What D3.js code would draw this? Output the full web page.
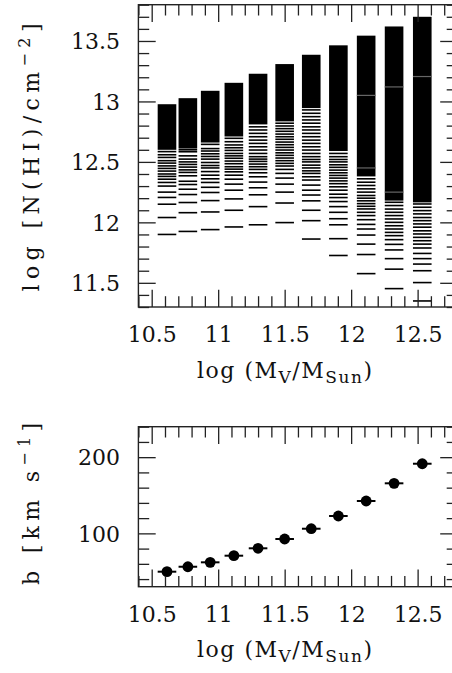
<!DOCTYPE html>
<html><head><meta charset="utf-8">
<script src="https://cdn.jsdelivr.net/npm/d3@7"></script>
<style>
body{margin:0;background:#fff}
svg{display:block}
text{font-family:"DejaVu Serif",serif;fill:#111}
</style>
</head><body>
<svg id="c" width="452" height="673"></svg>
<script>
// ---- data ----
const massBins = [10.615, 10.772, 10.94, 11.118, 11.30, 11.50, 11.70, 11.904, 12.113, 12.323, 12.535];
const binHalfWidth = 0.07;
const nhiTop = [12.977, 13.027, 13.088, 13.154, 13.229, 13.309, 13.386, 13.464, 13.544, 13.62, 13.70];
const nhiSolidBottom = [12.60, 12.61, 12.66, 12.71, 12.81, 12.835, 12.945, 12.59, 12.38, 12.18, 12.165];
const nhiLightBands = [[], [], [], [], [], [], [], [], [13.05, 12.45], [13.12, 12.25], [13.206]];
const nhiDashes = [
  [12.585, 12.559, 12.537, 12.51, 12.49, 12.467, 12.446, 12.424, 12.40, 12.38, 12.357, 12.33, 12.30, 12.25, 12.206, 12.15, 12.04, 11.90],
  [12.60, 12.584, 12.55, 12.523, 12.50, 12.479, 12.457, 12.434, 12.413, 12.385, 12.34, 12.313, 12.274, 12.23, 12.164, 12.08, 11.925],
  [12.645, 12.61, 12.59, 12.567, 12.545, 12.523, 12.495, 12.47, 12.45, 12.42, 12.39, 12.36, 12.33, 12.29, 12.247, 12.18, 12.086, 11.94],
  [12.695, 12.667, 12.64, 12.617, 12.595, 12.57, 12.55, 12.53, 12.507, 12.485, 12.46, 12.44, 12.418, 12.39, 12.357, 12.316, 12.266, 12.194, 12.10, 11.962],
  [12.79, 12.764, 12.736, 12.708, 12.68, 12.653, 12.625, 12.598, 12.57, 12.543, 12.523, 12.504, 12.482, 12.46, 12.438, 12.41, 12.377, 12.333, 12.286, 12.228, 12.13, 11.98],
  [12.82, 12.797, 12.775, 12.753, 12.73, 12.708, 12.687, 12.664, 12.642, 12.62, 12.598, 12.575, 12.554, 12.532, 12.51, 12.488, 12.466, 12.438, 12.405, 12.366, 12.316, 12.25, 12.16, 11.998],
  [12.93, 12.902, 12.874, 12.847, 12.82, 12.79, 12.764, 12.736, 12.708, 12.68, 12.653, 12.625, 12.598, 12.57, 12.543, 12.52, 12.50, 12.473, 12.45, 12.426, 12.405, 12.377, 12.35, 12.308, 12.266, 12.226, 12.178, 12.10, 12.014, 11.862],
  [12.57, 12.543, 12.52, 12.50, 12.476, 12.455, 12.432, 12.41, 12.388, 12.366, 12.343, 12.32, 12.294, 12.266, 12.233, 12.205, 12.172, 12.13, 12.083, 12.03, 11.98, 11.865, 11.726],
  [12.36, 12.332, 12.305, 12.277, 12.25, 12.222, 12.20, 12.178, 12.155, 12.133, 12.111, 12.083, 12.056, 12.022, 11.983, 11.945, 11.895, 11.82, 11.734, 11.576],
  [12.166, 12.139, 12.11, 12.083, 12.056, 12.028, 12.0, 11.972, 11.945, 11.917, 11.89, 11.857, 11.818, 11.772, 11.70, 11.613, 11.452],
  [12.152, 12.125, 12.097, 12.07, 12.04, 12.014, 11.987, 11.96, 11.93, 11.904, 11.876, 11.848, 11.82, 11.788, 11.743, 11.70, 11.655, 11.60, 11.502, 11.35]
];
const bValues = [49.7, 56.2, 62.0, 70.7, 80.4, 92.6, 106.1, 122.8, 142.5, 165.7, 191.4];
const xTickLabels = ["10.5", "11", "11.5", "12", "12.5"];
const nhiTickLabels = ["11.5", "12", "12.5", "13", "13.5"];
const bTickLabels = ["100", "200"];

// ---- drawing ----
const svg = d3.select("#c");
const x = d3.scaleLinear().domain([10.4, 12.8]).range([138.4, 457.5]);
const yTop = d3.scaleLinear().domain([11.3, 13.8]).range([307, 4.7]);
const yBot = d3.scaleLinear().domain([30, 240]).range([586.7, 426.7]);

const xMajor = xTickLabels.map(Number);
const xMinor = d3.range(104, 129).map(v => v / 10).filter(v => !xMajor.some(m => Math.abs(m - v) < 1e-6));
const nMajor = nhiTickLabels.map(Number);
const nMinor = d3.range(113, 139).map(v => v / 10).filter(v => !nMajor.some(m => Math.abs(m - v) < 1e-6));
const bMajor = bTickLabels.map(Number);
const bMinor = d3.range(40, 241, 20).filter(v => !bMajor.includes(v));

function frame(y, xTicksLabelled, yMajorVals, yMinorVals, yLabels) {
  const [y0, y1] = y.range();
  const x0 = x.range()[0], x1 = x.range()[1];
  const g = svg.append("g");
  const styleAxis = sel => {
    sel.select(".domain").remove();
    sel.selectAll("line").attr("stroke", "#222").attr("stroke-width", 1.3);
  };
  const MJ = 17.3, MN = 10.8;
  // bottom
  g.append("g").attr("transform", `translate(0,${y0})`).call(d3.axisBottom(x).tickValues(xMinor).tickSize(-MN).tickFormat("")).call(styleAxis);
  const xb = g.append("g").attr("transform", `translate(0,${y0})`).call(d3.axisBottom(x).tickValues(xMajor).tickSize(-MJ).tickFormat((d, i) => xTickLabels[i])).call(styleAxis);
  xb.selectAll("text").attr("y", 35).attr("dy", null).attr("font-size", 22).attr("font-family", '"DejaVu Serif",serif').attr("fill", "#111");
  // top
  g.append("g").attr("transform", `translate(0,${y1})`).call(d3.axisTop(x).tickValues(xMinor).tickSize(-MN).tickFormat("")).call(styleAxis);
  g.append("g").attr("transform", `translate(0,${y1})`).call(d3.axisTop(x).tickValues(xMajor).tickSize(-MJ).tickFormat("")).call(styleAxis);
  // left
  g.append("g").attr("transform", `translate(${x0},0)`).call(d3.axisLeft(y).tickValues(yMinorVals).tickSize(-MN).tickFormat("")).call(styleAxis);
  const yl = g.append("g").attr("transform", `translate(${x0},0)`).call(d3.axisLeft(y).tickValues(yMajorVals).tickSize(-MJ).tickFormat((d, i) => yLabels[i])).call(styleAxis);
  yl.selectAll("text").attr("x", -18.5).attr("dy", "0.35em").attr("font-size", 22).attr("font-family", '"DejaVu Serif",serif').attr("fill", "#111");
  // right
  g.append("g").attr("transform", `translate(${x1},0)`).call(d3.axisRight(y).tickValues(yMinorVals).tickSize(-MN).tickFormat("")).call(styleAxis);
  g.append("g").attr("transform", `translate(${x1},0)`).call(d3.axisRight(y).tickValues(yMajorVals).tickSize(-MJ).tickFormat("")).call(styleAxis);
  g.append("rect").attr("x", x0).attr("y", y1).attr("width", x1 - x0).attr("height", y0 - y1)
    .attr("fill", "none").attr("stroke", "#222").attr("stroke-width", 1.4);
}

// top panel marks
const cols = svg.append("g");
massBins.forEach((m, i) => {
  const xl = x(m - binHalfWidth), xr = x(m + binHalfWidth);
  cols.append("rect").attr("x", xl).attr("width", xr - xl)
    .attr("y", yTop(nhiTop[i])).attr("height", yTop(nhiSolidBottom[i]) - yTop(nhiTop[i]))
    .attr("fill", "#000");
  cols.selectAll(null).data(nhiLightBands[i]).enter().append("line")
    .attr("x1", xl).attr("x2", xr).attr("y1", d => yTop(d)).attr("y2", d => yTop(d))
    .attr("stroke", "#666").attr("stroke-width", 1.2);
  cols.selectAll(null).data(nhiDashes[i]).enter().append("line")
    .attr("x1", xl).attr("x2", xr).attr("y1", d => yTop(d)).attr("y2", d => yTop(d))
    .attr("stroke", "#000").attr("stroke-width", 1.6);
});

// bottom panel marks
const pts = svg.append("g");
pts.selectAll("line").data(massBins).enter().append("line")
  .attr("x1", d => x(d - binHalfWidth)).attr("x2", d => x(d + binHalfWidth))
  .attr("y1", (d, i) => yBot(bValues[i])).attr("y2", (d, i) => yBot(bValues[i]))
  .attr("stroke", "#000").attr("stroke-width", 2);
pts.selectAll("circle").data(massBins).enter().append("circle")
  .attr("cx", d => x(d)).attr("cy", (d, i) => yBot(bValues[i])).attr("r", 5.4).attr("fill", "#000");

frame(yTop, true, nMajor, nMinor, nhiTickLabels);
frame(yBot, true, bMajor, bMinor, bTickLabels);

// axis labels
function xLabel(yBase) {
  const t = svg.append("text").attr("x", 284.5).attr("y", yBase).attr("text-anchor", "middle")
    .attr("font-size", 22).attr("textLength", 175).attr("lengthAdjust", "spacing");
  t.append("tspan").text("log (M");
  t.append("tspan").attr("dy", 5).attr("font-size", 17).text("V");
  t.append("tspan").attr("dy", -5).text("/M");
  t.append("tspan").attr("dy", 5).attr("font-size", 17).text("Sun");
  t.append("tspan").attr("dy", -5).text(")");
}
xLabel(377.5);
xLabel(657);

const yl1 = svg.append("text").attr("transform", "translate(39,157.5) rotate(-90)").attr("text-anchor", "middle")
  .attr("font-size", 22).attr("textLength", 268).attr("lengthAdjust", "spacing");
yl1.append("tspan").text("log [N(HI)/cm");
yl1.append("tspan").attr("dy", -9).attr("font-size", 16).text("\u22122");
yl1.append("tspan").attr("dy", 9).text("]");

const yl2 = svg.append("text").attr("transform", "translate(39,504) rotate(-90)").attr("text-anchor", "middle")
  .attr("font-size", 22).attr("textLength", 162).attr("lengthAdjust", "spacing");
yl2.append("tspan").text("b [km s");
yl2.append("tspan").attr("dy", -9).attr("font-size", 16).text("\u22121");
yl2.append("tspan").attr("dy", 9).text("]");
</script>
</body></html>
